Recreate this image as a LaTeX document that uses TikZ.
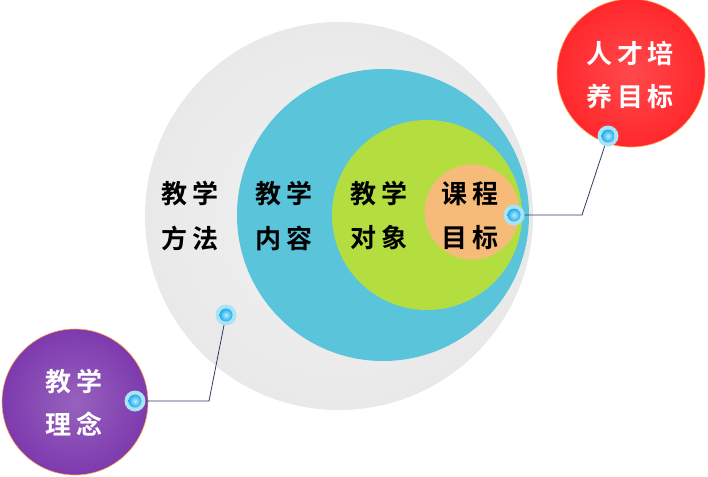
\documentclass[tikz,border=0pt]{standalone}
\usepackage{fontspec}
\newfontfamily\cjk{Noto Sans CJK SC Bold}
\begin{document}
\begin{tikzpicture}[x=1pt,y=-1pt,
  ring/.style={circle,draw=none,inner sep=0pt,minimum size=#1},
  lbl/.style={font=\cjk\fontsize{26}{26}\selectfont,text=black,inner sep=0pt},
  wlbl/.style={font=\cjk\fontsize{26}{26}\selectfont,text=white,inner sep=0pt},
  link/.style={draw={rgb,255:red,46;green,62;blue,96},line width=0.8pt},
]
\definecolor{cgrey}{RGB}{233,233,233}
\definecolor{cblue}{RGB}{90,196,218}
\definecolor{cgreen}{RGB}{180,221,64}
\definecolor{corange}{RGB}{246,187,120}
\definecolor{cred}{RGB}{255,40,44}
\definecolor{cpurple}{RGB}{125,58,174}
\definecolor{cglow}{RGB}{170,228,244}
\definecolor{cdot}{RGB}{30,190,238}
\newcommand{\gp}{\hspace{5pt}}
\useasboundingbox (0,0) rectangle (708,476);
\fill[white] (0,0) rectangle (708,476);
% nested circles
\node[ring=388pt,shade,inner color=cgrey!60!white,outer color=cgrey] (grey) at (339,216) {};
\node[ring=292pt,fill=cblue] (blue) at (383,215) {};
\node[ring=190pt,fill=cgreen] (green) at (427,215) {};
\node[ring=95pt,fill=corange] (orange) at (472,212) {};
% outer circles
\node[ring=148pt,shade,inner color=cred!85!white,outer color=cred,draw=orange!70,line width=0.6pt] (red) at (631,73) {};
\node[ring=146pt,shade,inner color=cpurple!80!white,outer color=cpurple,draw=orange!70,line width=0.6pt] (purple) at (75,402) {};
% labels
\node[lbl] at (190,194) {教\gp 学};
\node[lbl] at (190,238) {方\gp 法};
\node[lbl] at (284,194) {教\gp 学};
\node[lbl] at (284,238) {内\gp 容};
\node[lbl] at (379,194) {教\gp 学};
\node[lbl] at (379,238) {对\gp 象};
\node[lbl] at (470,194) {课\gp 程};
\node[lbl] at (470,238) {目\gp 标};
\node[wlbl] at (630,54) {人\gp 才\gp 培};
\node[wlbl] at (630,97) {养\gp 目\gp 标};
\node[wlbl] at (74,382) {教\gp 学};
\node[wlbl] at (74,424) {理\gp 念};
% connector points
\coordinate (d1) at (514,215);
\coordinate (d2) at (608,136);
\coordinate (d3) at (226,315);
\coordinate (d4) at (135,401);
\coordinate (b1) at (582,215);
\coordinate (b2) at (209,401);
\draw[link] (d1) -- (b1) -- (d2);
\draw[link] (d4) -- (b2) -- (d3);
% dots
\foreach \d in {d1,d2,d3,d4}{
  \fill[cglow] (\d) circle (10.5pt);
  \shade[inner color=white!70!cdot,outer color=cdot!90!blue] (\d) circle (6.5pt);
}
\end{tikzpicture}
\end{document}
